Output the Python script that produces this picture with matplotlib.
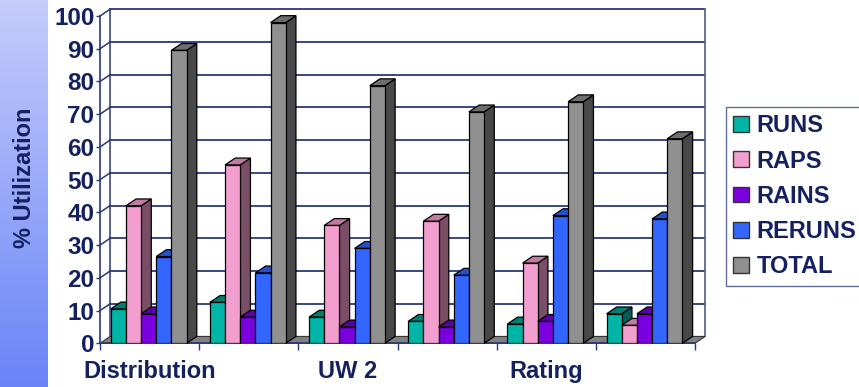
import numpy as np
import matplotlib
matplotlib.use("Agg")
import matplotlib.pyplot as plt
from matplotlib.patches import Polygon, Patch

categories = ["Distribution", "", "UW 2", "", "Rating", ""]
series = ["RUNS", "RAPS", "RAINS", "RERUNS", "TOTAL"]
runs = [10.5, 12.5, 8.0, 6.7, 5.9, 9.0]
raps = [42.0, 54.5, 36.0, 37.3, 24.5, 5.5]
rains = [9.0, 8.0, 5.0, 5.0, 6.7, 9.0]
reruns = [26.5, 21.5, 29.0, 20.8, 39.0, 38.0]
total = [89.5, 98.0, 78.7, 70.7, 73.8, 62.5]
yticks = list(range(0, 101, 10))

values = [runs, raps, rains, reruns, total]
front = ["#00B5A5", "#F29FCF", "#7A00E0", "#3366FF", "#909090"]
top = ["#007F70", "#C27AA2", "#5A00A8", "#2450C8", "#6E6E6E"]
side = ["#005E54", "#7A4E66", "#3E0075", "#1A3A92", "#484848"]

navy = "#142060"
grid = "#2A3878"
plt.rcParams["font.family"] = ["Liberation Sans", "DejaVu Sans"]
plt.rcParams["font.weight"] = "bold"

fig = plt.figure(figsize=(8.59, 3.87), dpi=100)

# gradient strip on the left
gax = fig.add_axes([0, 0, 48 / 859, 1])
c1 = np.array([0xC5, 0xCD, 0xFB]) / 255
c2 = np.array([0x6A, 0x84, 0xF7]) / 255
t = np.linspace(0, 1, 256)[:, None]
grad = (c1 * (1 - t) + c2 * t)[:, None, :]
gax.imshow(grad, aspect="auto", extent=[0, 1, 0, 1])
gax.axis("off")

ax = fig.add_axes([100 / 859, 1 - 343.3 / 387, 595 / 859, 327.3 / 387])
n = len(categories)
ax.set_xlim(0, n)
ax.set_ylim(0, 100)
DX, DY = 0.103, 2.1

# walls and floor
for v in yticks[1:]:
    ax.plot([DX, n + DX], [v + DY, v + DY], color=grid, lw=1.3, zorder=1, clip_on=False)
    ax.plot([0, DX], [v, v + DY], color=grid, lw=1.1, zorder=1, clip_on=False)
ax.plot([DX, DX], [DY, 100 + DY], color=grid, lw=1.1, zorder=1, clip_on=False)
ax.plot([n + DX, n + DX], [DY, 100 + DY], color="#5A6890", lw=1.3, zorder=1, clip_on=False)
ax.add_patch(Polygon([(0, 0), (n, 0), (n + DX, DY), (DX, DY)], closed=True,
                     facecolor="#808080", edgecolor="#333333", lw=0.8, zorder=1.5, clip_on=False))

# bars with fake depth
bw = 0.153
off = 0.108
z = 3
for g in range(n):
    for i in range(len(series)):
        x0 = g + off + i * bw
        h = values[i][g]
        ax.add_patch(Polygon([(x0 + bw, 0), (x0 + bw + DX, DY), (x0 + bw + DX, h + DY), (x0 + bw, h)],
                             closed=True, facecolor=side[i], edgecolor="black", lw=0.9, zorder=z, clip_on=False))
        ax.add_patch(Polygon([(x0, h), (x0 + bw, h), (x0 + bw + DX, h + DY), (x0 + DX, h + DY)],
                             closed=True, facecolor=top[i], edgecolor="black", lw=0.9, zorder=z, clip_on=False))
        ax.bar(x0, h, width=bw, align="edge", color=front[i], edgecolor="black", lw=0.9, zorder=z + 0.5)
        z += 1

for s in ["top", "right"]:
    ax.spines[s].set_visible(False)
ax.spines["left"].set_color(grid)
ax.spines["bottom"].set_color(grid)
ax.spines["left"].set_linewidth(1.2)
ax.spines["bottom"].set_linewidth(1.2)
ax.set_facecolor("none")

ax.set_yticks(yticks)
ax.set_yticklabels([str(v) for v in yticks], fontsize=17.5, fontweight="bold", color=navy)
ax.tick_params(axis="y", length=3, width=1, color=grid, pad=1)
ax.set_xticks(range(n + 1))
ax.set_xticklabels([])
ax.tick_params(axis="x", which="major", length=5, width=1, color=grid)
ax.set_xticks([g + 0.5 for g in range(n)], minor=True)
ax.set_xticklabels(categories, minor=True, fontsize=17, fontweight="bold", color=navy)
ax.tick_params(axis="x", which="minor", length=0, pad=12)

fig.text(0.028, 0.54, "% Utilization", rotation=90, ha="center", va="center",
         fontsize=17, fontweight="bold", color=navy)

handles = [Patch(facecolor=front[i], edgecolor="#333333", label=series[i]) for i in range(len(series))]
leg = fig.legend(handles=handles, loc="upper left", bbox_to_anchor=(725.7 / 859, 1 - 106.7 / 387),
                 fontsize=17, frameon=True, fancybox=False, handlelength=0.65, handleheight=0.65,
                 handletextpad=0.35, labelspacing=0.52, borderpad=0.32, borderaxespad=0)
leg.get_frame().set_edgecolor("#3A4A80")
leg.get_frame().set_linewidth(1.0)
for txt in leg.get_texts():
    txt.set_color(navy)
    txt.set_fontweight("bold")

fig.savefig("out.png", dpi=100)
